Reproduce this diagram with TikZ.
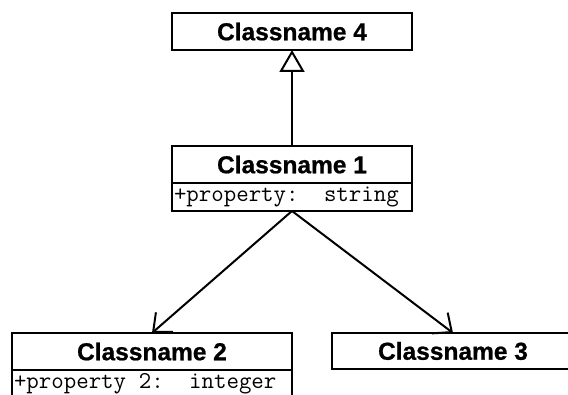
\documentclass[tikz,border=0pt]{standalone}
\usepackage{fontspec}
\setmainfont{Liberation Sans}[BoldFeatures={FakeBold=0.8}]
\usetikzlibrary{arrows.meta}
% one monospaced blank (Latin Modern Mono advance)
\newcommand\monoblank{\hspace*{0.525em}}
\tikzset{
  classhead/.style={draw, line width=2pt, inner sep=0pt, outer sep=0pt, minimum height=37pt,
    font=\fontsize{24.5}{28}\selectfont\bfseries},
  classattr/.style={draw, line width=2pt, inner xsep=2pt, inner ysep=0pt, outer sep=0pt,
    text width=#1, align=left, minimum height=28pt,
    font=\ttfamily\fontsize{24.2}{26}\selectfont},
  inherit/.style={line width=2pt, -{Triangle[open, length=22pt, width=25pt, line width=2pt]}},
  assoc/.style={line width=2pt, -{Straight Barb[length=15pt, width=26pt, line width=2pt]}}
}
\begin{document}
\begin{tikzpicture}[x=1pt, y=-1pt]
  \useasboundingbox (0,0) rectangle (568,395);
  \fill[white] (0,0) rectangle (568,395);
  \clip (0,0) rectangle (568,395);

  % Classname 4
  \node[classhead, minimum width=240pt] (c4) at (292,31.5) {Classname 4};

  % Classname 1 with one attribute
  \node[classhead, minimum width=240pt] (c1) at (292,164.5) {Classname 1};
  \node[classattr=236pt, anchor=north] (c1a) at (c1.south)
    {+property:\monoblank\monoblank string};

  % Classname 2 with one attribute
  \node[classhead, minimum width=280pt] (c2) at (152,351.5) {Classname 2};
  \node[classattr=276pt, anchor=north] (c2a) at (c2.south)
    {+property\monoblank 2:\monoblank\monoblank integer};

  % Classname 3
  \node[classhead, minimum width=242pt, minimum height=36pt] (c3) at (453,351) {Classname 3};

  % Generalization
  \draw[inherit] (c1.north) -- (c4.south);

  % Associations
  \draw[assoc] (c1a.south) -- (c2.north);
  \draw[assoc] (c1a.south) -- (c3.north);
\end{tikzpicture}
\end{document}
